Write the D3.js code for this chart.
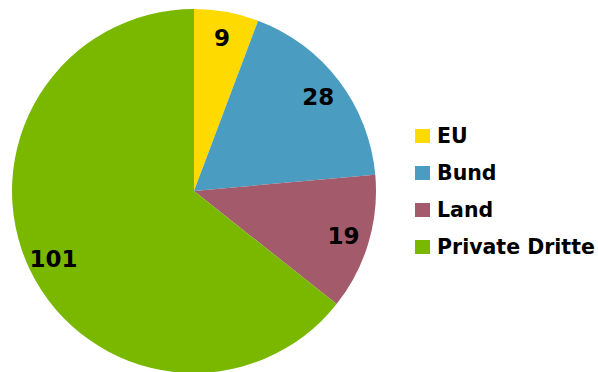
<!DOCTYPE html>
<html>
<head>
<meta charset="utf-8">
<script src="https://cdn.jsdelivr.net/npm/d3@7/dist/d3.min.js"></script>
<style>
  html, body { margin: 0; padding: 0; background: #fff; }
  svg { display: block; }
  text { font-family: "DejaVu Sans", "Liberation Sans", sans-serif; font-weight: bold; fill: #000; }
</style>
</head>
<body>
<svg id="chart" width="598" height="372"></svg>
<script>
// Funding sources and their counts
const categories = ["EU", "Bund", "Land", "Private Dritte"];
const values = [9, 28, 19, 101];
const colors = ["#FFDA00", "#4A9CC0", "#A35A6B", "#7AB800"];

const cx = 194, cy = 191, radius = 182;

const svg = d3.select("#chart");
const g = svg.append("g").attr("transform", `translate(${cx},${cy})`);

const pie = d3.pie().sort(null).value(d => d.value);
const data = categories.map((c, i) => ({ name: c, value: values[i], color: colors[i] }));
const arcs = pie(data);

const arc = d3.arc().innerRadius(0).outerRadius(radius);
const labelArc = d3.arc().innerRadius(156).outerRadius(156);

g.selectAll("path.slice")
  .data(arcs)
  .join("path")
  .attr("class", "slice")
  .attr("d", arc)
  .attr("fill", d => d.data.color);

// Value labels, vertically centred on the cap height
g.selectAll("text.value")
  .data(arcs)
  .join("text")
  .attr("class", "value")
  .attr("transform", d => `translate(${labelArc.centroid(d)})`)
  .attr("text-anchor", "middle")
  .attr("dy", "0.365em")
  .style("font-size", "23px")
  .text(d => d.data.value);

// Legend
const legend = svg.append("g").attr("transform", "translate(415,136)");
const rowH = 37;
const rows = legend.selectAll("g.row")
  .data(data)
  .join("g")
  .attr("class", "row")
  .attr("transform", (d, i) => `translate(0,${i * rowH})`);

rows.append("rect")
  .attr("x", 0).attr("y", -7)
  .attr("width", 15).attr("height", 14)
  .attr("fill", d => d.color);

rows.append("text")
  .attr("x", 22)
  .attr("y", 0)
  .attr("dy", "0.365em")
  .style("font-size", "20.5px")
  .text(d => d.name);
</script>
</body>
</html>
